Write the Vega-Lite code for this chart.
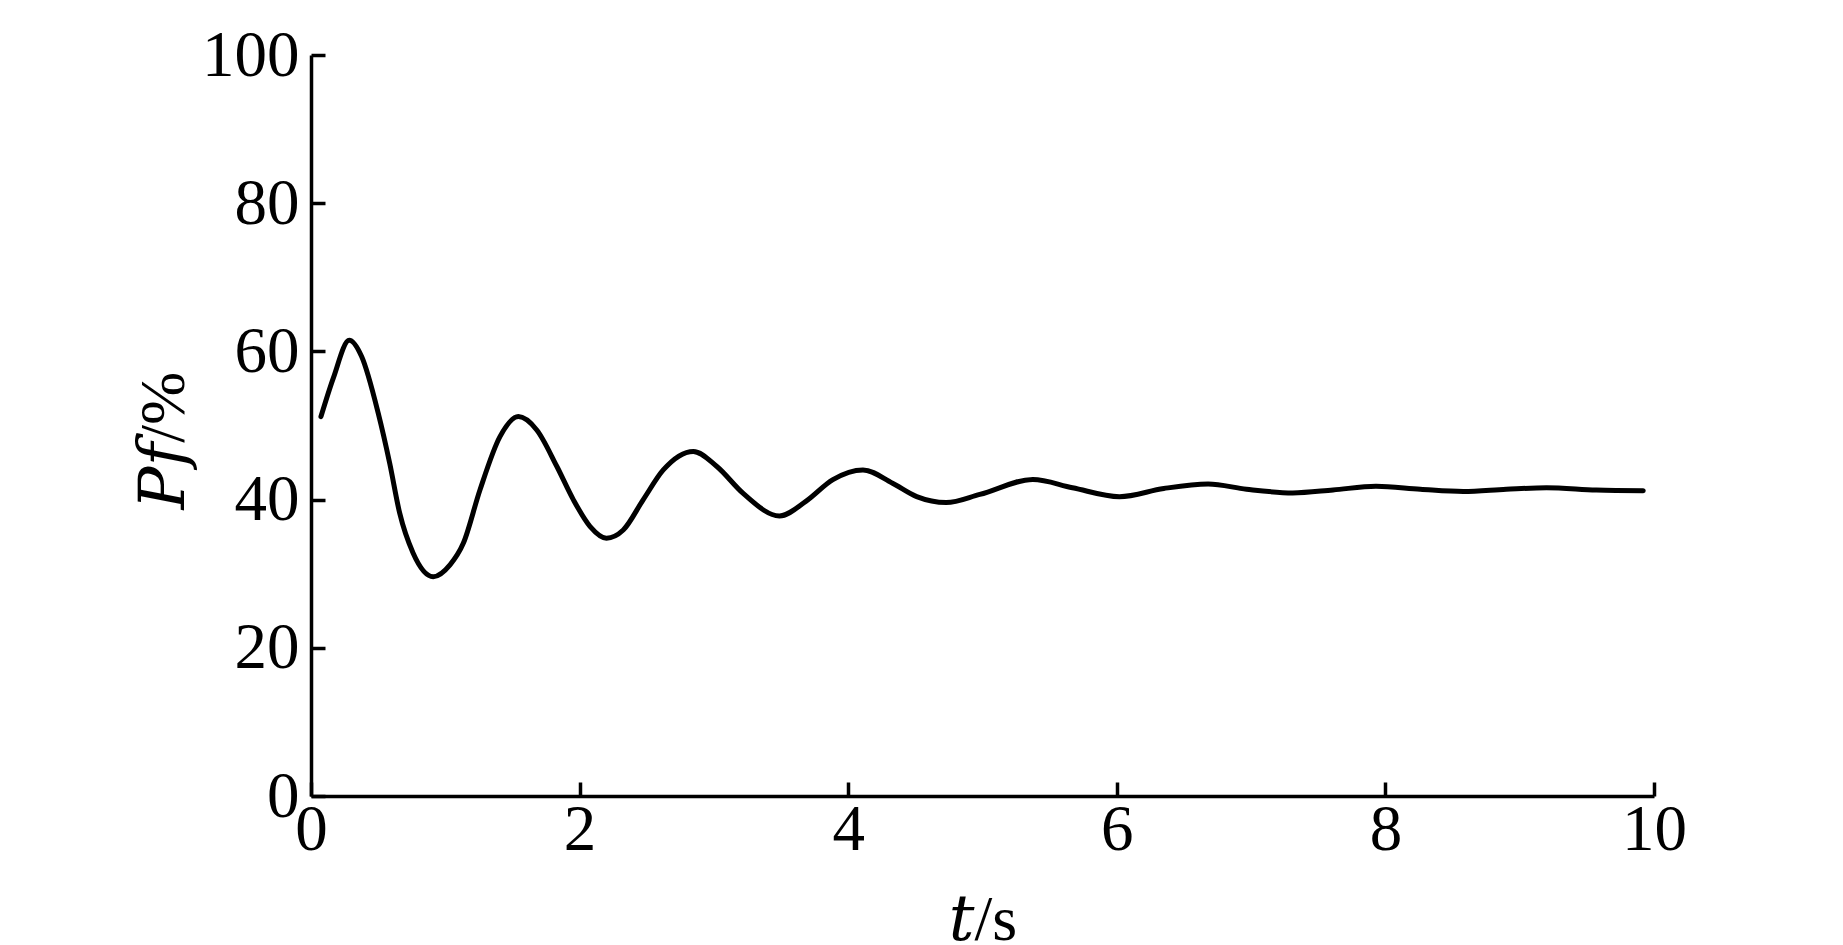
{
  "$schema": "https://vega.github.io/schema/vega-lite/v6.json",
  "autosize": {"type": "none"},
  "padding": {"left": 311, "top": 55, "right": 189, "bottom": 149},
  "width": 1343,
  "height": 741,
  "background": "white",
  "config": {
    "view": {"stroke": null},
    "axis": {
      "grid": false,
      "domainColor": "black",
      "domainWidth": 3.5,
      "tickColor": "black",
      "tickWidth": 3.5,
      "tickSize": -14,
      "labelFont": "Liberation Serif",
      "labelFontSize": 65,
      "labelColor": "black",
      "titleFont": "Liberation Serif, DejaVu Serif",
      "titleFontSize": 64,
      "titleFontWeight": "normal",
      "titleColor": "black",
      "labelFlush": false,
      "labelBound": false,
      "labelOverlap": false
    }
  },
  "data": {
    "values": [
      {"t": 0.074, "p": 51.2},
      {"t": 0.166, "p": 56.4},
      {"t": 0.285, "p": 61.5},
      {"t": 0.377, "p": 59.3},
      {"t": 0.5, "p": 51.7},
      {"t": 0.586, "p": 44.9},
      {"t": 0.66, "p": 38.2},
      {"t": 0.76, "p": 32.8},
      {"t": 0.91, "p": 29.6},
      {"t": 1.035, "p": 31.2},
      {"t": 1.134, "p": 34.1},
      {"t": 1.258, "p": 41.3},
      {"t": 1.407, "p": 48.5},
      {"t": 1.544, "p": 51.2},
      {"t": 1.681, "p": 49.4},
      {"t": 1.83, "p": 44.5},
      {"t": 1.953, "p": 40.0},
      {"t": 2.077, "p": 36.4},
      {"t": 2.2, "p": 34.8},
      {"t": 2.325, "p": 35.9},
      {"t": 2.474, "p": 40.0},
      {"t": 2.623, "p": 44.0},
      {"t": 2.847, "p": 46.5},
      {"t": 3.02, "p": 44.5},
      {"t": 3.22, "p": 40.8},
      {"t": 3.488, "p": 37.8},
      {"t": 3.687, "p": 39.8},
      {"t": 3.886, "p": 42.7},
      {"t": 4.11, "p": 44.0},
      {"t": 4.33, "p": 42.2},
      {"t": 4.51, "p": 40.4},
      {"t": 4.73, "p": 39.6},
      {"t": 4.98, "p": 40.7},
      {"t": 5.375, "p": 42.7},
      {"t": 5.67, "p": 41.6},
      {"t": 6.02, "p": 40.4},
      {"t": 6.35, "p": 41.5},
      {"t": 6.68, "p": 42.1},
      {"t": 6.966, "p": 41.4},
      {"t": 7.31, "p": 40.9},
      {"t": 7.61, "p": 41.3},
      {"t": 7.93, "p": 41.8},
      {"t": 8.26, "p": 41.4},
      {"t": 8.58, "p": 41.1},
      {"t": 8.9, "p": 41.4},
      {"t": 9.2, "p": 41.6},
      {"t": 9.57, "p": 41.3},
      {"t": 9.92, "p": 41.2}
    ]
  },
  "mark": {"type": "line", "color": "black", "strokeWidth": 5, "interpolate": "monotone", "strokeCap": "round", "strokeJoin": "round"},
  "encoding": {
    "x": {
      "field": "t",
      "type": "quantitative",
      "scale": {"domain": [0, 10], "nice": false, "zero": false},
      "axis": {"values": [0, 2, 4, 6, 8, 10], "format": "d", "title": "𝑡/s", "labelPadding": 16, "titlePadding": 26}
    },
    "y": {
      "field": "p",
      "type": "quantitative",
      "scale": {"domain": [0, 100], "nice": false},
      "axis": {"values": [0, 20, 40, 60, 80, 100], "format": "d", "title": "𝑃𝑓/%", "labelPadding": 26, "titlePadding": 5, "titleY": 385}
    }
  }
}
